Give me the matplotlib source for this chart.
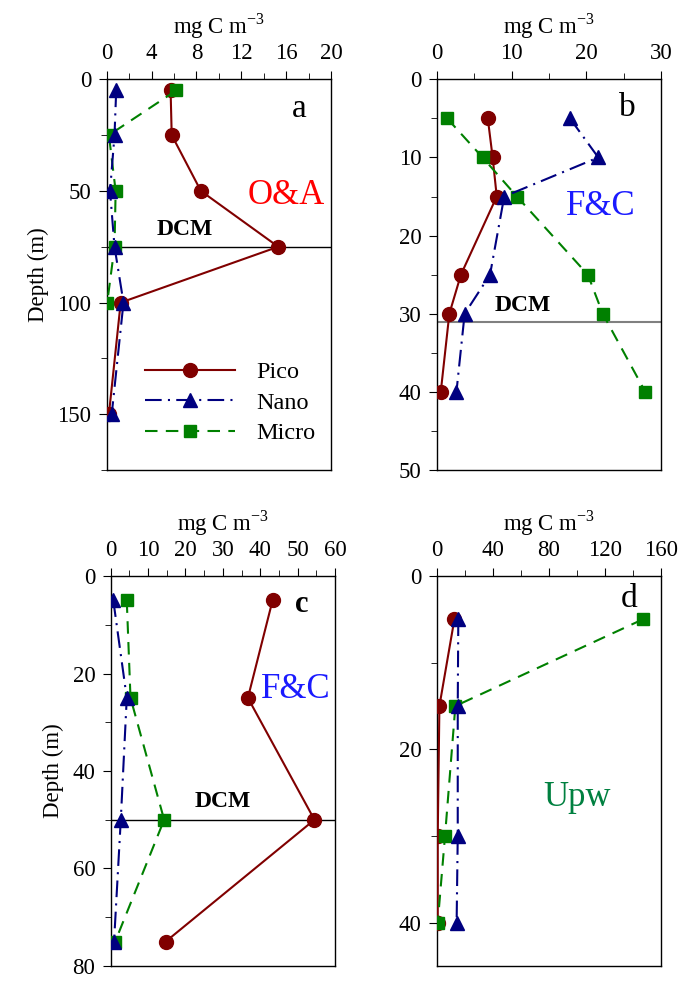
import numpy as np
import matplotlib
matplotlib.use("Agg")
import matplotlib.pyplot as plt

plt.rcParams['font.family'] = ['Liberation Serif', 'DejaVu Serif']
plt.rcParams['font.size'] = 16

# panel a - O&A
depth_a = [5, 25, 50, 75, 100, 150]
pico_a = [5.7, 5.8, 8.4, 15.3, 1.25, 0.2]
nano_a = [0.85, 0.7, 0.3, 0.7, 1.5, 0.45]
micro_a = [6.2, 0.2, 0.8, 0.7, 0.05, np.nan]

# panel b - F&C
depth_b = [5, 10, 15, 25, 30, 40]
pico_b = [6.8, 7.45, 8.0, 3.2, 1.65, 0.5]
nano_b = [17.8, 21.6, 9.0, 7.1, 3.7, 2.6]
micro_b = [1.35, 6.1, 10.7, 20.2, 22.2, 27.9]

# panel c - F&C
depth_c = [5, 25, 50, 75]
pico_c = [43.3, 36.7, 54.5, 14.7]
nano_c = [0.7, 4.3, 2.7, 0.9]
micro_c = [4.3, 5.3, 14.3, 1.2]

# panel d - Upw
depth_d = [5, 15, 30, 40]
pico_d = [12.4, 1.7, 0.5, 0.5]
nano_d = [15.2, 14.8, 14.8, 14.0]
micro_d = [147, 13.1, 5.7, 0.5]

dcm = {'a': 75, 'b': 31, 'c': 50}

fig = plt.figure(figsize=(6.82, 9.85), dpi=100)
boxes = {
    'a': [0.1564, 0.5228, 0.3289, 0.3967],
    'b': [0.6408, 0.5228, 0.3284, 0.3967],
    'c': [0.1623, 0.0193, 0.3289, 0.3959],
    'd': [0.6408, 0.0193, 0.3284, 0.3959],
}

def profile(ax, depth, pico, nano, micro):
    ax.plot(pico, depth, color='#800000', lw=1.5, marker='o', ms=10, label='Pico', zorder=3)
    ax.plot(nano, depth, color='#000080', lw=1.5, marker='^', ms=10,
            dashes=(8, 3, 1, 3), label='Nano', zorder=4)
    m = ~np.isnan(np.array(micro, dtype=float))
    ax.plot(np.array(micro)[m], np.array(depth)[m], color='#008000', lw=1.5, marker='s', ms=9,
            dashes=(6, 4), label='Micro', zorder=3)

def style(ax, xmax, xmajor, xminor, ymax, ymajor, yminor, ylabel=True):
    ax.set_xlim(0, xmax)
    ax.set_ylim(ymax, 0)
    ax.xaxis.tick_top()
    ax.xaxis.set_label_position('top')
    ax.set_xticks(np.arange(0, xmax + 0.01, xmajor))
    ax.set_xticks(np.arange(0, xmax + 0.01, xminor), minor=True)
    ax.set_yticks(np.arange(0, ymax + 0.01, ymajor))
    ax.set_yticks(np.arange(0, ymax + 0.01, yminor), minor=True)
    ax.tick_params(which='both', direction='out', top=True, bottom=False, right=False)
    ax.tick_params(which='major', length=6, labelsize=16.5, pad=5)
    ax.tick_params(which='minor', length=4)
    ax.set_xlabel(r'mg C m$^{\mathregular{-3}}$', fontsize=16.5, labelpad=7)
    if ylabel:
        ax.set_ylabel('Depth (m)', fontsize=16.5, labelpad=6)
    for s in ax.spines.values():
        s.set_linewidth(1.0)

ax = fig.add_axes(boxes['a'])
profile(ax, depth_a, pico_a, nano_a, micro_a)
style(ax, 20, 4, 2, 175, 50, 25)
ax.axhline(dcm['a'], color='black', lw=1)
ax.text(7.0, 72, 'DCM', ha='center', va='bottom', fontsize=17, fontweight='bold')
ax.text(17.2, 13, 'a', ha='center', va='center', fontsize=24)
ax.text(16.0, 52, 'O&A', ha='center', va='center', fontsize=25, color='red')
ax.legend(loc='lower right', bbox_to_anchor=(1.03, 0.01), frameon=False, fontsize=17.5,
          handlelength=3.7, labelspacing=0.35, handletextpad=0.9)

ax = fig.add_axes(boxes['b'])
profile(ax, depth_b, pico_b, nano_b, micro_b)
style(ax, 30, 10, 5, 50, 10, 5, ylabel=False)
ax.axhline(dcm['b'], color='#808080', lw=1.5)
ax.text(11.5, 30.3, 'DCM', ha='center', va='bottom', fontsize=17, fontweight='bold')
ax.text(25.5, 3.6, 'b', ha='center', va='center', fontsize=24)
ax.text(22.0, 16.3, 'F&C', ha='center', va='center', fontsize=25, color='#1a1aff')

ax = fig.add_axes(boxes['c'])
profile(ax, depth_c, pico_c, nano_c, micro_c)
style(ax, 60, 10, 5, 80, 20, 10)
ax.axhline(dcm['c'], color='black', lw=1)
ax.text(30, 48.5, 'DCM', ha='center', va='bottom', fontsize=17, fontweight='bold')
ax.text(51, 5.8, 'c', ha='center', va='center', fontsize=22, fontweight='bold')
ax.text(49.5, 23.2, 'F&C', ha='center', va='center', fontsize=25, color='#1a1aff')

ax = fig.add_axes(boxes['d'])
profile(ax, depth_d, pico_d, nano_d, micro_d)
style(ax, 160, 40, 20, 45, 20, 10, ylabel=False)
ax.set_yticks([0, 20, 40])
ax.text(137, 2.6, 'd', ha='center', va='center', fontsize=24)
ax.text(100, 25.5, 'Upw', ha='center', va='center', fontsize=25, color='#008040')

fig.savefig('out.png', dpi=100)
